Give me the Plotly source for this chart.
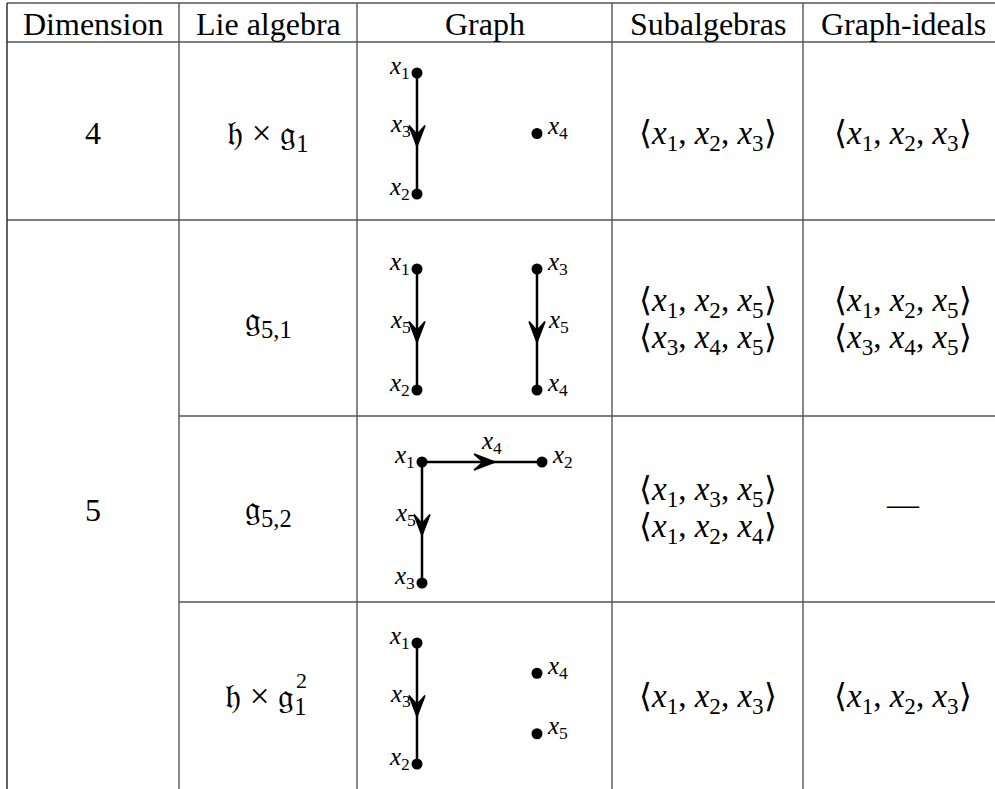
import plotly.graph_objects as go

# Table content
headers = ["Dimension", "Lie algebra", "Graph", "Subalgebras", "Graph-ideals"]
dimensions = ["4", "5"]
dimension_span = [(0, 0), (1, 3)]  # first and last body row of each dimension
algebras = ["𝔥 × 𝔤<sub>1</sub>", "𝔤<sub>5,1</sub>", "𝔤<sub>5,2</sub>", "𝔥 × 𝔤<sub>1</sub>"]
algebra_powers = ["", "", "", "2"]
subalgebras = [
    ["⟨x1, x2, x3⟩"],
    ["⟨x1, x2, x5⟩", "⟨x3, x4, x5⟩"],
    ["⟨x1, x3, x5⟩", "⟨x1, x2, x4⟩"],
    ["⟨x1, x2, x3⟩"],
]
graph_ideals = [
    ["⟨x1, x2, x3⟩"],
    ["⟨x1, x2, x5⟩", "⟨x3, x4, x5⟩"],
    [],
    ["⟨x1, x2, x3⟩"],
]

# Graphs: nodes as (name, grid column, grid row, label side), edges as (from, to, label, label side)
graph_nodes = [
    [("x1", 0, 0, "left"), ("x2", 0, 2, "left"), ("x4", 1, 1, "right")],
    [("x1", 0, 0, "left"), ("x2", 0, 2, "left"), ("x3", 1, 0, "right"), ("x4", 1, 2, "right")],
    [("x1", 0, 0, "left"), ("x2", 1, 0, "right"), ("x3", 0, 2, "left")],
    [("x1", 0, 0, "left"), ("x2", 0, 2, "left"), ("x4", 1, 0.5, "right"), ("x5", 1, 1.5, "right")],
]
graph_edges = [
    [("x1", "x2", "x3", "left")],
    [("x1", "x2", "x5", "left"), ("x3", "x4", "x5", "right")],
    [("x1", "x2", "x4", "above"), ("x1", "x3", "x5", "left")],
    [("x1", "x2", "x3", "left")],
]

# Page geometry (pixels)
W, H = 995, 789
col_edges = [7, 179, 357, 612, 803, 1003]
row_edges = [3, 42, 220, 416, 602, 795]
graph_origin = [(417, 73), (417, 269), (422, 462), (417, 643)]
grid_dx, grid_dy = 120, 60.5
text_shift = [4, 3, 1, 0]

FONT = "Liberation Serif"
BIG = 32
MATH = 33
ALG = 35
SMALL = 25
LINE = "#555555"


def math(s):
    # "x1" -> italic x with subscript
    out = ""
    i = 0
    while i < len(s):
        ch = s[i]
        if ch == "x" and i + 1 < len(s) and s[i + 1].isdigit():
            out += "<i>x</i><sub>" + s[i + 1] + "</sub>"
            i += 2
        else:
            out += ch
            i += 1
    return out


fig = go.Figure()
shapes = []
ann = []


def hline(y, x0, x1):
    shapes.append(dict(type="line", x0=x0, x1=x1, y0=y, y1=y, xref="x", yref="y",
                       line=dict(color=LINE, width=1.4)))


def vline(x, y0, y1, color=LINE):
    shapes.append(dict(type="line", x0=x, x1=x, y0=y0, y1=y1, xref="x", yref="y",
                       line=dict(color=color, width=1.4)))


def stealth(tx, ty, ux, uy, length=21, half=8, notch=9):
    # filled stealth-style arrow head, tip at (tx, ty), pointing along (ux, uy)
    px, py = -uy, ux
    bx, by = tx - ux * length, ty - uy * length
    nx, ny = tx - ux * (length - notch), ty - uy * (length - notch)
    pts = [(tx, ty), (bx + px * half, by + py * half), (nx, ny), (bx - px * half, by - py * half)]
    path = "M " + " L ".join(f"{x:.2f},{y:.2f}" for x, y in pts) + " Z"
    shapes.append(dict(type="path", path=path, xref="x", yref="y",
                       fillcolor="black", line=dict(color="black", width=1.5)))


# grid lines
hline(row_edges[0], col_edges[0], W)
hline(row_edges[1], col_edges[0], W)
hline(row_edges[2], col_edges[0], W)
for r in (3, 4):
    hline(row_edges[r], col_edges[1], W)
for i, c in enumerate(col_edges[:-1]):
    vline(c, row_edges[0], H, "#222222" if i == 0 else LINE)

col_mid = [(col_edges[i] + col_edges[i + 1]) / 2 for i in range(5)]


def text(x, y, t, size=BIG, **kw):
    ann.append(dict(x=x, y=y, xref="x", yref="y", text=t, showarrow=False,
                    font=dict(family=FONT, size=size, color="black"), **kw))


def cell_lines(x, yc, lines):
    if not lines:
        text(x, yc - 6, "—")
        return
    if len(lines) == 1:
        text(x, yc, math(lines[0]), size=MATH)
        return
    gap = 37
    for k, s in enumerate(lines):
        text(x, yc + (k - (len(lines) - 1) / 2) * gap, math(s), size=MATH)


# header
for i, h in enumerate(headers):
    text(col_mid[i], (row_edges[0] + row_edges[1]) / 2 + 1, h)

# dimension column
for d, (r0, r1) in zip(dimensions, dimension_span):
    text(col_mid[0], (row_edges[r0 + 1] + row_edges[r1 + 2]) / 2 + 2, d)

for r in range(4):
    yc = (row_edges[r + 1] + row_edges[r + 2]) / 2 + text_shift[r]
    if algebra_powers[r]:
        text(309, yc, algebras[r], size=ALG, xanchor="right")
        text(309, yc - 18, algebra_powers[r], size=22, xanchor="right")
    else:
        text(col_mid[1], yc, algebras[r], size=ALG)
    cell_lines(col_mid[3], yc, subalgebras[r])
    cell_lines(col_mid[4], yc, graph_ideals[r])

    # graph drawing
    ox, oy = graph_origin[r]
    pos = {n: (ox + gx * grid_dx, oy + gy * grid_dy) for n, gx, gy, _ in graph_nodes[r]}
    for a, b, lab, side in graph_edges[r]:
        (xa, ya), (xb, yb) = pos[a], pos[b]
        fig.add_trace(go.Scatter(x=[xa, xb], y=[ya, yb], mode="lines",
                                 line=dict(color="black", width=2.5), hoverinfo="skip"))
        mx, my = (xa + xb) / 2, (ya + yb) / 2
        dx, dy = (xb - xa), (yb - ya)
        L = (dx ** 2 + dy ** 2) ** 0.5
        ux, uy = dx / L, dy / L
        stealth(mx + ux * 13, my + uy * 13, ux, uy)
        if side == "left":
            text(mx - 4, my - 8, math(lab), size=SMALL, xanchor="right")
        elif side == "right":
            text(mx + 9, my - 8, math(lab), size=SMALL, xanchor="left")
        else:
            text(mx + 9, my - 20, math(lab), size=SMALL)
    for n, gx, gy, side in graph_nodes[r]:
        x, y = pos[n]
        if side == "left":
            text(x - 5, y - 6, math(n), size=SMALL, xanchor="right")
        else:
            text(x + 8, y - 6, math(n), size=SMALL, xanchor="left")
    fig.add_trace(go.Scatter(x=[pos[n][0] for n in pos], y=[pos[n][1] for n in pos],
                             mode="markers", marker=dict(color="black", size=11),
                             hoverinfo="skip"))

fig.update_layout(
    width=W, height=H,
    margin=dict(l=0, r=0, t=0, b=0),
    paper_bgcolor="white", plot_bgcolor="white",
    showlegend=False,
    xaxis=dict(range=[0, W], visible=False, fixedrange=True),
    yaxis=dict(range=[H, 0], visible=False, fixedrange=True),
    shapes=shapes, annotations=ann,
)

# drop the page's default body margin so the figure fills the window
fig.write_html("out.html", config={"displayModeBar": False},
               post_script="document.body.style.margin='0';")
